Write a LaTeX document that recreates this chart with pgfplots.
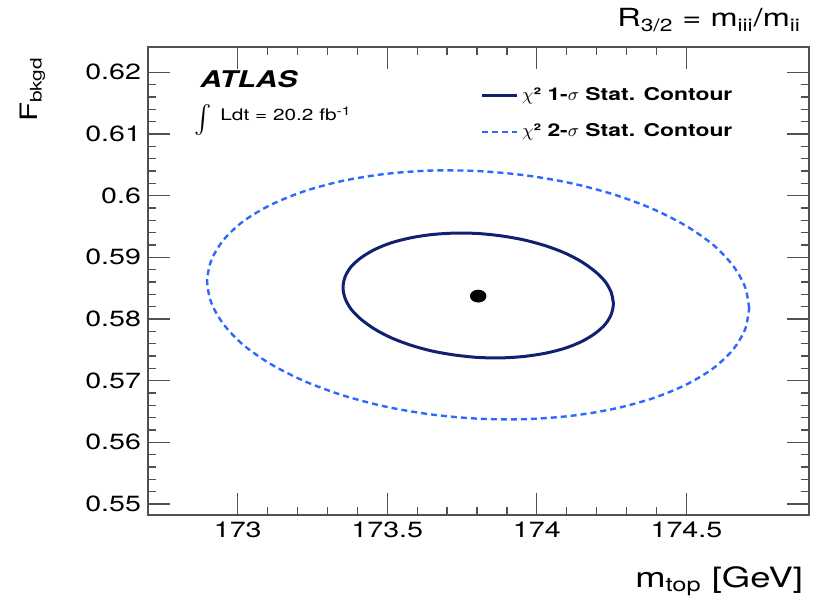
\documentclass[border=0pt]{standalone}
\usepackage{fontspec}
\setmainfont{TeX Gyre Heros}[FakeStretch=1.3]
\usepackage{graphicx}
\usepackage{pgfplots}
\pgfplotsset{compat=1.18}

\definecolor{sigmaone}{RGB}{15,33,112}
\definecolor{sigmatwo}{RGB}{45,105,255}
\definecolor{framegray}{RGB}{80,80,80}

\begin{document}
\begin{tikzpicture}
\useasboundingbox (-74pt,-40.5pt) rectangle (338.5pt,257.5pt);
\begin{axis}[
  at={(0pt,0pt)}, anchor=south west,
  scale only axis, width=330.5pt, height=234pt,
  xmin=172.7, xmax=174.91, ymin=0.5482, ymax=0.6241,
  xtick={173,173.5,174,174.5},
  xticklabels={173,173.5,174,174.5},
  ytick={0.55,0.56,0.57,0.58,0.59,0.60,0.61,0.62},
  yticklabels={0.55,0.56,0.57,0.58,0.59,0.6,0.61,0.62},
  minor x tick num=4, minor y tick num=4,
  tick align=inside,
  major tick length=11pt, minor tick length=4pt,
  tick style={framegray, line width=0.6pt},
  axis line style={framegray, line width=0.9pt},
  ticklabel style={font=\fontsize{11}{11}\selectfont},
  /pgf/number format/assume math mode=true,
  legend style={at={(rel axis cs:0.503,0.922)}, anchor=north west,
    draw=none, fill=none, inner sep=0pt,
    font=\fontsize{8.8}{9}\selectfont\bfseries,
    row sep=6pt},
  legend cell align=left,
]
\addplot[sigmaone, line width=1.5pt, smooth] coordinates {
  (174.256,0.5825) (174.249,0.58427) (174.229,0.58602) (174.195,0.58769)
  (174.150,0.58926) (174.095,0.59066) (174.030,0.59185) (173.958,0.5928)
  (173.882,0.59346) (173.804,0.59385) (173.726,0.59392) (173.649,0.59368)
  (173.578,0.59315) (173.513,0.59234) (173.458,0.59126) (173.413,0.58995)
  (173.379,0.58846) (173.359,0.58683) (173.352,0.5851) (173.359,0.58334)
  (173.379,0.58158) (173.413,0.57991) (173.458,0.57834) (173.513,0.57694)
  (173.578,0.57575) (173.649,0.5748) (173.726,0.57414) (173.804,0.57375)
  (173.882,0.57368) (173.958,0.57392) (174.030,0.57445) (174.095,0.57526)
  (174.150,0.57634) (174.195,0.57765) (174.229,0.57914) (174.249,0.58078)
  (174.256,0.5825) (174.249,0.58427)
};
\addlegendentry{$\chi$² 1-$\sigma$ Stat. Contour}
\addplot[sigmatwo, line width=1.2pt, smooth, dash pattern=on 3pt off 2pt] coordinates {
  (174.710,0.5817) (174.696,0.58522) (174.655,0.5887) (174.589,0.59204)
  (174.498,0.59512) (174.386,0.59787) (174.257,0.60019) (174.114,0.60202)
  (173.961,0.60329) (173.804,0.60398) (173.646,0.60406) (173.494,0.60352)
  (173.351,0.60239) (173.222,0.6007) (173.110,0.59849) (173.019,0.59585)
  (172.953,0.59284) (172.912,0.58955) (172.898,0.5861) (172.912,0.58258)
  (172.953,0.5791) (173.019,0.57577) (173.110,0.57268) (173.222,0.56993)
  (173.351,0.56761) (173.494,0.56578) (173.646,0.56451) (173.804,0.56382)
  (173.961,0.56374) (174.114,0.56428) (174.257,0.56541) (174.386,0.5671)
  (174.498,0.56931) (174.589,0.57196) (174.655,0.57497) (174.696,0.57825)
  (174.710,0.5817)
};
\addlegendentry{$\chi$² 2-$\sigma$ Stat. Contour}
% best-fit point
\addplot[only marks, mark=*, mark size=3pt, mark options={xscale=1.3, black}, forget plot]
  coordinates {(173.804,0.5837)};
\end{axis}

% experiment label
\node[anchor=base west, inner sep=0pt, font=\fontsize{11.5}{12}\selectfont\bfseries\itshape] at (26pt,214pt) {ATLAS};
\node[inner sep=0pt] at (27.5pt,197.5pt) {\scalebox{1.3}[1.4]{$\int$}};
\node[anchor=base west, inner sep=0pt, font=\fontsize{8}{9}\selectfont] at (36pt,197pt) {Ldt = 20.2 fb\textsuperscript{-1}};

% title and axis titles
\node[anchor=base east, font=\fontsize{12.5}{13}\selectfont] at (330pt,244pt)
  {R\textsubscript{3/2} = m\textsubscript{iii}/m\textsubscript{ii}};
\node[anchor=base east, font=\fontsize{14}{14}\selectfont] at (331pt,-36pt)
  {m\textsubscript{top} [GeV]};
\node[anchor=base east, rotate=90, font=\fontsize{12}{12}\selectfont] at (-55pt,232.5pt)
  {F\textsubscript{bkgd}};
\end{tikzpicture}
\end{document}
